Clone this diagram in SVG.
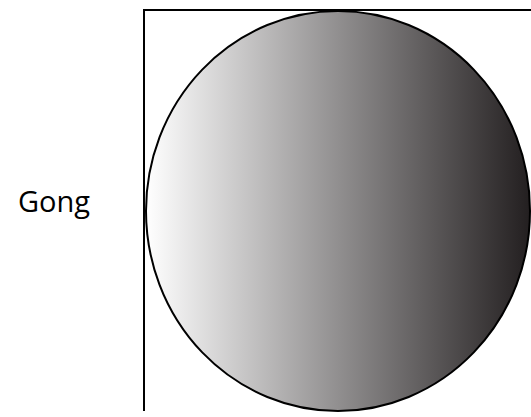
<svg xmlns="http://www.w3.org/2000/svg" width="531" height="417" viewBox="0 0 531 417">
<defs>
<linearGradient id="g" x1="0" y1="0" x2="1" y2="0">
<stop offset="0" stop-color="#ffffff"/>
<stop offset="1" stop-color="#231f20"/>
</linearGradient>
<style>
.lbl{font-family:"Open Sans","Noto Sans",sans-serif;font-size:29px;fill:#000}
.frame{fill:none;stroke:#000;stroke-width:2}
</style>
</defs>
<rect width="531" height="417" fill="#fff"/>
<g id="frame"><path class="frame" d="M144,411 V10 H531"/></g>
<g id="gong"><ellipse cx="338" cy="211" rx="192" ry="200" fill="url(#g)" stroke="#000" stroke-width="2"/></g>
<g id="label"><text class="lbl" x="18" y="212">Gong</text></g>
<g id="connectors"/>
</svg>
